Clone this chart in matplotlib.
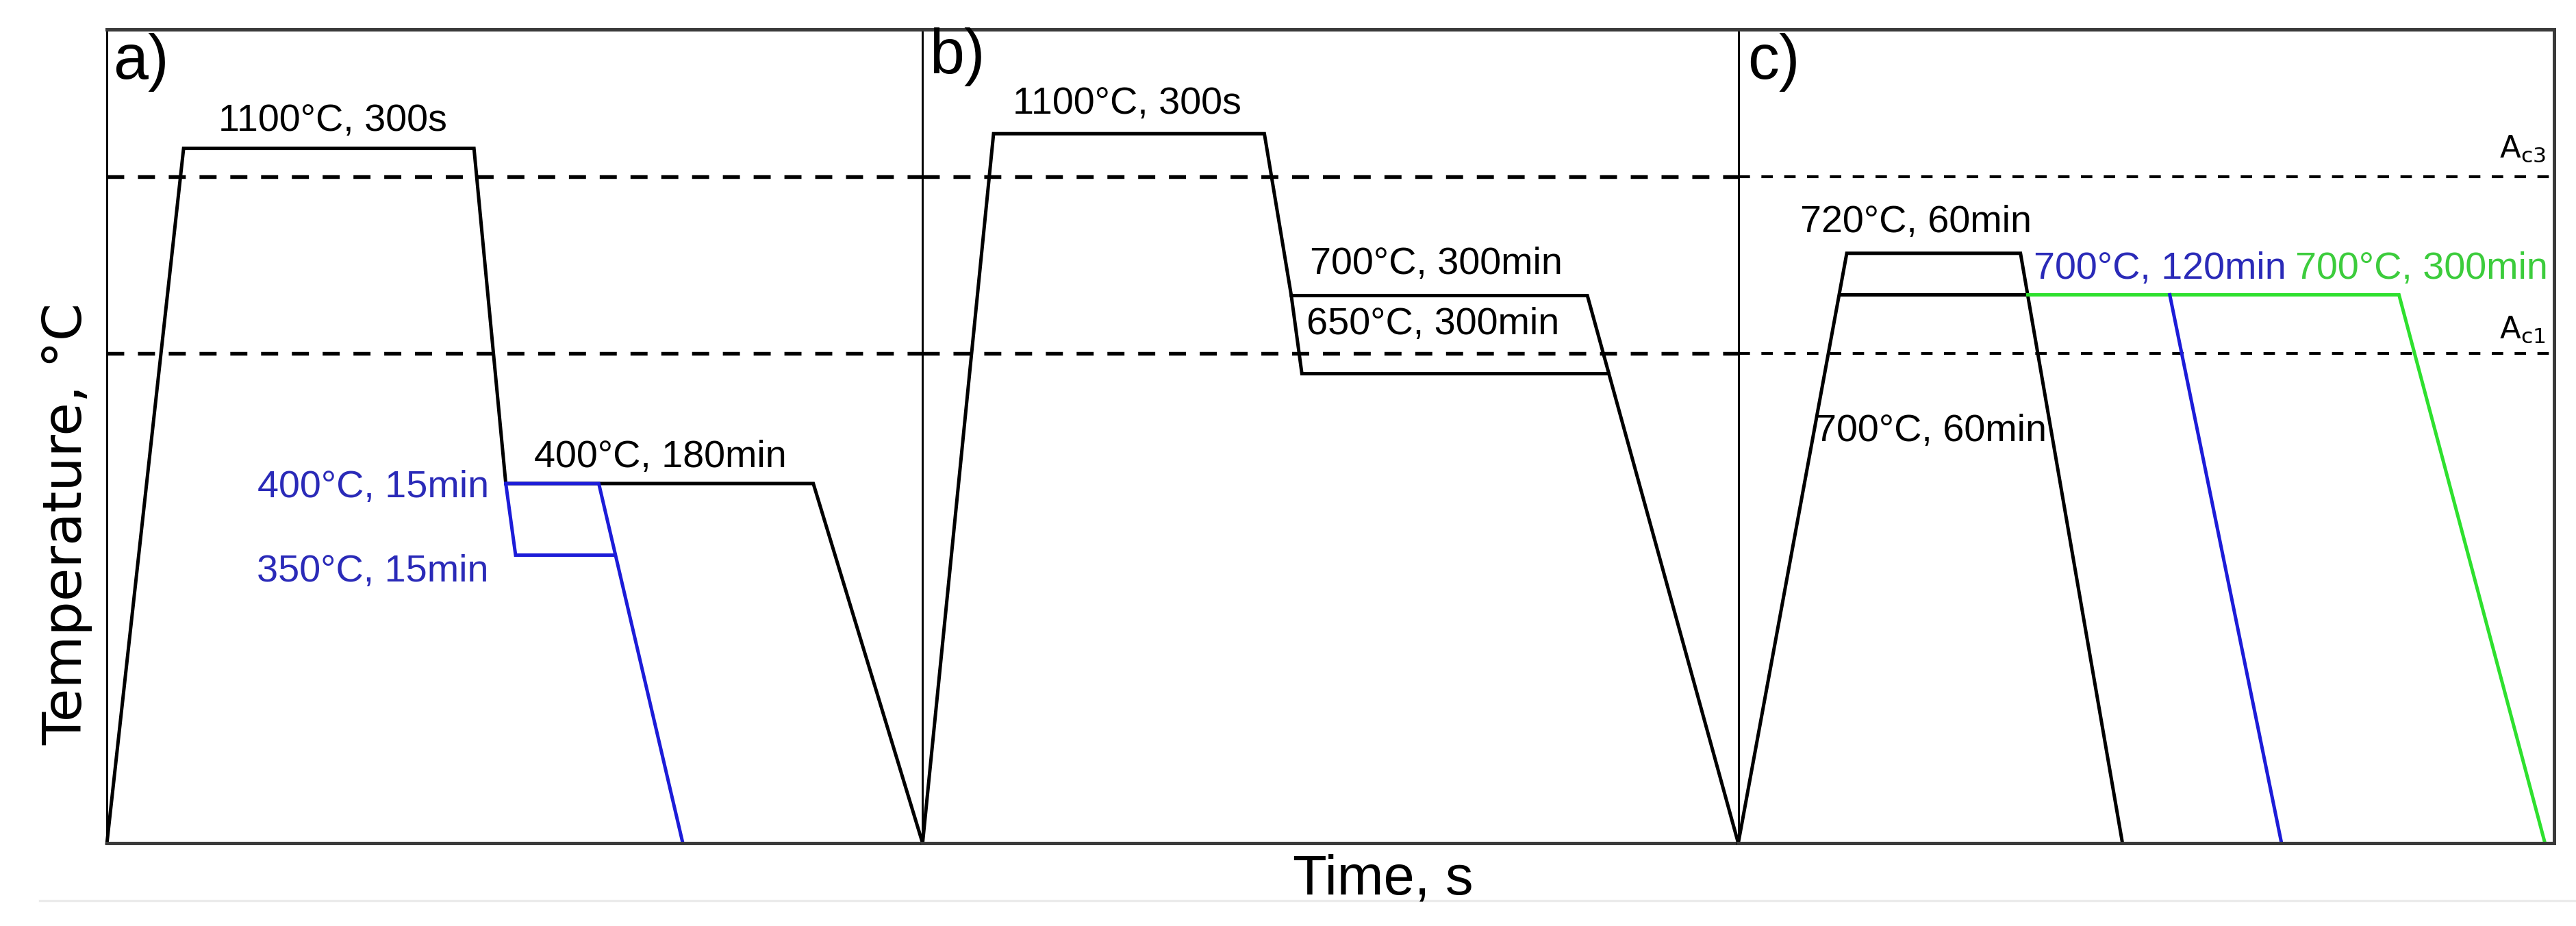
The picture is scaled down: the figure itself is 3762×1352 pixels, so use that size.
import matplotlib
import matplotlib.pyplot
import matplotlib.lines

# Условные уровни температуры (0..100 по высоте графика)
level_1100_a = 85.4
level_1100_b = 87.2
level_ac3 = 81.9
level_ac1 = 60.2

# Панель a) - закалка и отпуск
a_black_x = [0, 9.4, 45.0, 48.9, 86.6, 100]
a_black_y = [0, level_1100_a, level_1100_a, 44.2, 44.2, 0]
a_blue1_x = [48.9, 60.3, 70.6]
a_blue1_y = [44.2, 44.2, 0]
a_blue2_x = [48.9, 50.1, 62.3]
a_blue2_y = [44.2, 35.4, 35.4]

# Панель b) - изотермическая выдержка
b_main_x = [0, 8.7, 41.9, 45.2, 81.5, 100]
b_main_y = [0, level_1100_b, level_1100_b, 67.3, 67.3, 0]
b_second_x = [45.2, 46.5, 84.1]
b_second_y = [67.3, 57.7, 57.7]

# Панель c) - межкритический нагрев
c_black_x = [0, 13.3, 34.6, 47.1]
c_black_y = [0, 72.5, 72.5, 0]
c_plateau_x = [12.4, 35.5]
c_plateau_y = [67.4, 67.4]
c_green_x = [35.5, 81.0, 98.9]
c_green_y = [67.4, 67.4, 0]
c_blue_x = [52.9, 66.6]
c_blue_y = [67.4, 0]

# Подписи режимов: (x, y, текст, цвет, выравнивание)
a_labels = [
    (27.7, 87.6, "1100°C, 300s", "black", "center"),
    (52.4, 46.2, "400°C, 180min", "black", "left"),
    (46.8, 42.5, "400°C, 15min", "#2a2ab8", "right"),
    (46.8, 32.2, "350°C, 15min", "#2a2ab8", "right"),
]
b_labels = [
    (25.1, 89.7, "1100°C, 300s", "black", "center"),
    (47.5, 70.0, "700°C, 300min", "black", "left"),
    (47.1, 62.6, "650°C, 300min", "black", "left"),
]
c_labels = [
    (7.6, 75.1, "720°C, 60min", "black", "left"),
    (36.2, 69.4, "700°C, 120min", "#2a2ab8", "left"),
    (68.3, 69.4, "700°C, 300min", "#3ccc3c", "left"),
    (9.4, 49.4, "700°C, 60min", "black", "left"),
]

panel_names = ["a)", "b)", "c)"]
panel_name_x = [0.75, 0.84, 1.1]
panel_name_y = [94.0, 94.6, 94.0]

blue = "#1c1cd8"
green = "#2ee02e"
text_font = "Liberation Sans"

# Строим график
fig, axes = matplotlib.pyplot.subplots(
    1, 3, sharey=True, dpi=300, figsize=(12.543, 4.507)
)
fig.subplots_adjust(left=0.0415, right=0.9912, top=0.968, bottom=0.0895, wspace=0)

for ax in axes:
    ax.set_xlim(0, 100)
    ax.set_ylim(0, 100)
    ax.set_xticks([])
    ax.set_yticks([])
    for side in ["top", "bottom"]:
        ax.spines[side].set_linewidth(1.2)
        ax.spines[side].set_color("#3a3a3a")
    ax.spines["left"].set_linewidth(0.7)
    ax.spines["right"].set_linewidth(0.7)

axes[2].spines["right"].set_linewidth(1.2)
axes[2].spines["right"].set_color("#3a3a3a")

# Критические точки Ac3 и Ac1
for i, ax in enumerate(axes):
    if i < 2:
        style = dict(lw=1.3, dashes=(4.6, 3.7))
    else:
        style = dict(lw=1.0, dashes=(4.0, 4.0))
    ax.axhline(level_ac3, color="black", **style)
    ax.axhline(level_ac1, color="black", **style)

# Кривые режимов
line = dict(lw=1.2, clip_on=False, solid_joinstyle="miter")
axes[0].plot(a_black_x, a_black_y, color="black", **line)
axes[0].plot(a_blue1_x, a_blue1_y, color=blue, **line)
axes[0].plot(a_blue2_x, a_blue2_y, color=blue, **line)

axes[1].plot(b_main_x, b_main_y, color="black", **line)
axes[1].plot(b_second_x, b_second_y, color="black", **line)

axes[2].plot(c_black_x, c_black_y, color="black", **line)
axes[2].plot(c_plateau_x, c_plateau_y, color="black", **line)
axes[2].plot(c_green_x, c_green_y, color=green, **line)
axes[2].plot(c_blue_x, c_blue_y, color=blue, **line)

# Подписи режимов
for ax, labels in zip(axes, [a_labels, b_labels, c_labels]):
    for x, y, text, color, ha in labels:
        ax.text(x, y, text, color=color, ha=ha, va="baseline",
                fontsize=13.4, family=text_font)

# Обозначения панелей
for ax, name, x, y in zip(axes, panel_names, panel_name_x, panel_name_y):
    ax.text(x, y, name, ha="left", va="baseline", fontsize=22, family=text_font)

# Подписи Ac3 и Ac1
axes[2].text(99.0, 84.3, r"A$_{\mathrm{c3}}$", ha="right", va="baseline",
             fontsize=10.8, family="DejaVu Sans")
axes[2].text(99.0, 62.1, r"A$_{\mathrm{c1}}$", ha="right", va="baseline",
             fontsize=10.8, family="DejaVu Sans")

# Подписи осей
fig.text(0.0258, 0.434, "Temperature, °C", rotation=90, ha="center",
         va="center", fontsize=19, family="DejaVu Sans")
fig.text(0.5368, 0.0348, "Time, s", ha="center", va="baseline",
         fontsize=19.5, family=text_font)

# Светлая линия под графиком
fig.add_artist(matplotlib.lines.Line2D([0.0154, 1.0], [0.0274, 0.0274],
                                       color="#ebebeb", lw=0.8))

# Сохраняем график
fig.savefig("out.png", dpi=300)
